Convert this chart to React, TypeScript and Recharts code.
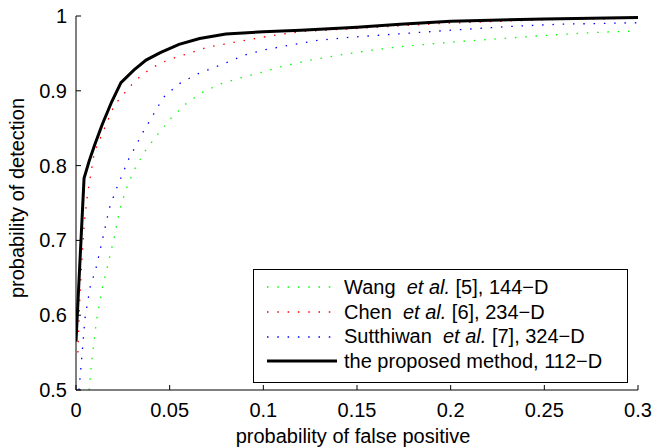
import { Line, LineChart, XAxis, YAxis } from "recharts";

const xTicks = [0, 0.05, 0.1, 0.15, 0.2, 0.25, 0.3];
const yTicks = [0.5, 0.6, 0.7, 0.8, 0.9, 1];

// Wang et al. [5], 144-D
const wangFp = [0.007, 0.0085, 0.011, 0.014, 0.0166, 0.0203, 0.0235, 0.0267, 0.031, 0.0365, 0.0427, 0.0502, 0.0578, 0.0667, 0.0769, 0.0876, 0.0982, 0.1089, 0.1249, 0.141, 0.157, 0.173, 0.2, 0.228, 0.25, 0.277, 0.3];
const wangPd = [0.5, 0.541, 0.594, 0.636, 0.663, 0.703, 0.743, 0.768, 0.794, 0.818, 0.839, 0.862, 0.881, 0.897, 0.909, 0.917, 0.924, 0.932, 0.941, 0.948, 0.954, 0.959, 0.965, 0.97, 0.974, 0.978, 0.98];

// Chen et al. [6], 234-D
const chenFp = [0.001, 0.002, 0.003, 0.0044, 0.0062, 0.008, 0.0098, 0.0205, 0.0276, 0.0311, 0.0352, 0.0395, 0.0445, 0.049, 0.0698, 0.0867, 0.1027, 0.1196, 0.141, 0.1676, 0.195, 0.25, 0.3];
const chenPd = [0.55, 0.62, 0.668, 0.723, 0.763, 0.79, 0.818, 0.881, 0.902, 0.912, 0.921, 0.929, 0.936, 0.941, 0.958, 0.966, 0.973, 0.979, 0.982, 0.986, 0.99, 0.995, 0.997];

// Sutthiwan et al. [7], 324-D
const sutFp = [0.0016, 0.003, 0.0048, 0.0075, 0.0107, 0.0143, 0.0178, 0.0214, 0.0278, 0.0356, 0.041, 0.0466, 0.0548, 0.0644, 0.0796, 0.0902, 0.1009, 0.1276, 0.1436, 0.1659, 0.2, 0.2317, 0.258, 0.3];
const sutPd = [0.5, 0.541, 0.596, 0.637, 0.663, 0.703, 0.743, 0.768, 0.807, 0.844, 0.867, 0.891, 0.909, 0.922, 0.937, 0.948, 0.955, 0.967, 0.971, 0.975, 0.981, 0.986, 0.989, 0.991];

// the proposed method, 112-D
const propFp = [0, 0.0043, 0.007, 0.01, 0.014, 0.019, 0.024, 0.031, 0.0374, 0.045, 0.055, 0.066, 0.08, 0.1, 0.12, 0.15, 0.173, 0.2, 0.25, 0.3];
const propPd = [0.565, 0.783, 0.806, 0.828, 0.855, 0.885, 0.911, 0.928, 0.941, 0.951, 0.962, 0.97, 0.976, 0.979, 0.981, 0.985, 0.989, 0.993, 0.996, 0.998];

const toPoints = (xs: number[], ys: number[]) => xs.map((x, i) => ({ x, y: ys[i] }));

const series = [
  { key: "wang", data: toPoints(wangFp, wangPd), color: "#00ff00", name: "Wang", ref: "[5], 144−D", dotted: true },
  { key: "chen", data: toPoints(chenFp, chenPd), color: "#ff0000", name: "Chen", ref: "[6], 234−D", dotted: true },
  { key: "sut", data: toPoints(sutFp, sutPd), color: "#0000ff", name: "Sutthiwan", ref: "[7], 324−D", dotted: true },
  { key: "prop", data: toPoints(propFp, propPd), color: "#000000", name: "the proposed method, 112−D", ref: "", dotted: false },
];

const FONT = "'Liberation Sans', Arial, Helvetica, sans-serif";
const DOTS = "1.5 8.8";

const fmt = (v: number) => String(Number(v.toFixed(2)));

function BottomTick({ x, y, payload }: any) {
  return (
    <g>
      <line x1={x} y1={y} x2={x} y2={y - 5} stroke="#000" />
      <text x={x} y={y + 27} textAnchor="middle" fontSize={20} fontFamily={FONT} fill="#000">
        {fmt(payload.value)}
      </text>
    </g>
  );
}

function TopTick({ x, y }: any) {
  return <line x1={x} y1={y} x2={x} y2={y + 5} stroke="#000" />;
}

function LeftTick({ x, y, payload }: any) {
  return (
    <g>
      <line x1={x} y1={y} x2={x + 5} y2={y} stroke="#000" />
      <text x={x - 9} y={y + 7} textAnchor="end" fontSize={20} fontFamily={FONT} fill="#000">
        {fmt(payload.value)}
      </text>
    </g>
  );
}

function RightTick({ x, y }: any) {
  return <line x1={x} y1={y} x2={x - 5} y2={y} stroke="#000" />;
}

function YLabel({ viewBox }: any) {
  const cy = viewBox.y + viewBox.height / 2 - 5;
  return (
    <text
      transform={`translate(24, ${cy}) rotate(-90)`}
      textAnchor="middle"
      fontSize={20}
      fontFamily={FONT}
      fill="#000"
    >
      probability of detection
    </text>
  );
}

function LegendBox() {
  return (
    <div
      style={{
        position: "absolute",
        left: 253,
        top: 269,
        width: 373,
        height: 107,
        border: "1px solid #000",
        background: "#fff",
        fontFamily: FONT,
        fontSize: 20,
        paddingTop: 5,
        boxSizing: "content-box",
      }}
    >
      {series.map((s) => (
        <div key={s.key} style={{ display: "flex", alignItems: "center", height: 24.7, whiteSpace: "pre" }}>
          <svg width={90} height={10} style={{ flex: "none" }}>
            <line
              x1={13}
              y1={5}
              x2={83}
              y2={5}
              stroke={s.color}
              strokeWidth={s.dotted ? 1.3 : 3}
              strokeDasharray={s.dotted ? DOTS : undefined}
            />
          </svg>
          {s.dotted ? (
            <span>
              {s.name}  <i>et al.</i> {s.ref}
            </span>
          ) : (
            <span>{s.name}</span>
          )}
        </div>
      ))}
    </div>
  );
}

export default function App() {
  return (
    <div style={{ position: "absolute", left: 0, top: 0, width: 653, height: 448, background: "#fff" }}>
      <LineChart width={653} height={448} margin={{ top: 16, right: 15, bottom: 0, left: 0 }}>
        <XAxis
          xAxisId="b"
          dataKey="x"
          type="number"
          domain={[0, 0.3]}
          ticks={xTicks}
          interval={0}
          height={58}
          tickSize={0}
          tickMargin={0}
          tickLine={false}
          axisLine={{ stroke: "#000" }}
          tick={<BottomTick />}
          allowDataOverflow
          label={{ value: "probability of false positive", position: "insideBottom", offset: 5, dx: -4, fontSize: 20, fontFamily: FONT, fill: "#000" }}
        />
        <XAxis
          xAxisId="t"
          orientation="top"
          dataKey="x"
          type="number"
          domain={[0, 0.3]}
          ticks={xTicks}
          interval={0}
          height={0}
          tickSize={0}
          tickMargin={0}
          tickLine={false}
          axisLine={{ stroke: "#000" }}
          tick={<TopTick />}
          allowDataOverflow
        />
        <YAxis
          yAxisId="l"
          type="number"
          domain={[0.5, 1]}
          ticks={yTicks}
          interval={0}
          width={76}
          tickSize={0}
          tickMargin={0}
          tickLine={false}
          axisLine={{ stroke: "#000" }}
          tick={<LeftTick />}
          allowDataOverflow
          label={<YLabel />}
        />
        <YAxis
          yAxisId="r"
          orientation="right"
          type="number"
          domain={[0.5, 1]}
          ticks={yTicks}
          interval={0}
          width={0}
          tickSize={0}
          tickMargin={0}
          tickLine={false}
          axisLine={{ stroke: "#000" }}
          tick={<RightTick />}
          allowDataOverflow
        />
        {series.map((s) => (
          <Line
            key={s.key}
            xAxisId="b"
            yAxisId="l"
            data={s.data}
            dataKey="y"
            type="linear"
            stroke={s.color}
            strokeWidth={s.dotted ? 1.3 : 3}
            strokeDasharray={s.dotted ? DOTS : undefined}
            dot={false}
            activeDot={false}
            isAnimationActive={false}
          />
        ))}
      </LineChart>
      <LegendBox />
    </div>
  );
}
